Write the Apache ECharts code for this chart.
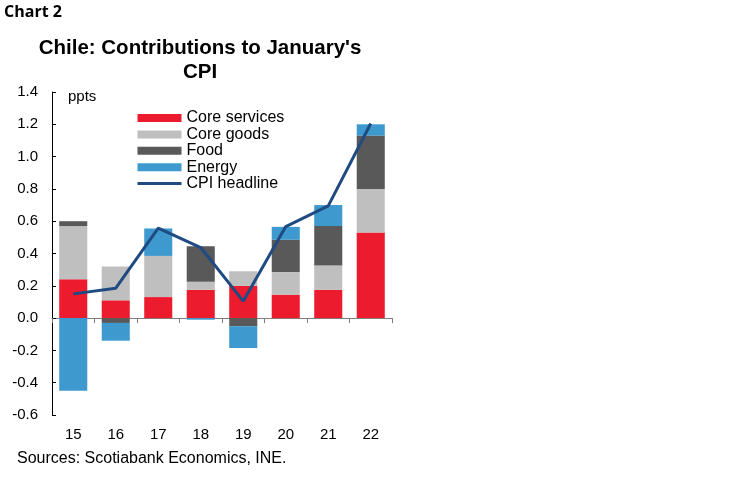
<!DOCTYPE html>
<html>
<head>
<meta charset="utf-8">
<script src="https://cdn.jsdelivr.net/npm/echarts@6/dist/echarts.min.js"></script>
<style>
html,body{margin:0;padding:0;background:#fff;}
#c{width:750px;height:477px;}
</style>
</head>
<body>
<div id="c"></div>
<script>
const categories = ['15','16','17','18','19','20','21','22'];
const coreServices = [0.24, 0.11, 0.13, 0.175, 0.20, 0.145, 0.175, 0.53];
const coreGoods    = [0.33, 0.21, 0.255, 0.05, 0.09, 0.14, 0.15, 0.27];
const food         = [0.03, -0.03, 0, 0.22, -0.05, 0.20, 0.245, 0.33];
const energy       = [-0.45, -0.11, 0.17, -0.01, -0.135, 0.08, 0.13, 0.07];
const cpiHeadline  = [0.15, 0.185, 0.557, 0.437, 0.105, 0.567, 0.695, 1.205];
const yTicks = {min: -0.6, max: 1.4, interval: 0.2};

const chart = echarts.init(document.getElementById('c'));
const font = 'Liberation Sans, Arial, sans-serif';
const barBase = {type: 'bar', stack: 'total', barWidth: '66%'};
chart.setOption({
  animation: false,
  textStyle: {fontFamily: font},
  grid: {left: 52, right: 358, top: 92, bottom: 62, containLabel: false},
  legend: {
    orient: 'vertical', left: 136, top: 110, padding: 0,
    itemWidth: 44, itemHeight: 8, itemGap: 0.4,
    textStyle: {fontFamily: font, fontSize: 16, color: '#000', lineHeight: 16, padding: [0,0,0,0]},
    data: [
      {name: 'Core services', icon: 'rect'},
      {name: 'Core goods', icon: 'rect'},
      {name: 'Food', icon: 'rect'},
      {name: 'Energy', icon: 'rect'},
      {name: 'CPI headline', itemStyle: {opacity: 0, borderWidth: 0}, lineStyle: {width: 3, color: '#1F4A82'}}
    ]
  },
  xAxis: {
    type: 'category', data: categories, boundaryGap: true,
    axisLine: {onZeroAxisIndex: 0, lineStyle: {color: '#7f7f7f', width: 1}},
    axisTick: {show: true, length: 5, lineStyle: {color: '#7f7f7f'}},
    axisLabel: {color: '#000', fontSize: 15, fontFamily: font, margin: 12},
    position: 'bottom'
  },
  yAxis: {
    type: 'value', min: yTicks.min, max: yTicks.max, interval: yTicks.interval,
    splitLine: {show: false},
    axisLine: {show: true, lineStyle: {color: '#000', width: 1}},
    axisTick: {show: true, inside: true, length: 4, lineStyle: {color: '#000'}},
    axisLabel: {color: '#000', fontSize: 15, fontFamily: font, margin: 14,
      formatter: v => v.toFixed(1)}
  },
  graphic: [
    {type: 'text', left: 4, top: 4, style: {text: 'Chart 2', font: 'bold 16px "Open Sans", sans-serif', fill: '#000'}},
    {type: 'text', x: 200, y: 38, style: {text: "Chile: Contributions to January's", font: 'bold 20.5px ' + font, fill: '#000', textAlign: 'center'}},
    {type: 'text', x: 200, y: 62, style: {text: 'CPI', font: 'bold 20.5px ' + font, fill: '#000', textAlign: 'center'}},
    {type: 'text', x: 68, y: 89, style: {text: 'ppts', font: '15px ' + font, fill: '#000'}},
    {type: 'text', x: 17, y: 451, style: {text: 'Sources: Scotiabank Economics, INE.', font: '16px ' + font, fill: '#000'}}
  ],
  series: [
    Object.assign({}, barBase, {name: 'Core services', data: coreServices, itemStyle: {color: '#ED1B2E'}}),
    Object.assign({}, barBase, {name: 'Core goods', data: coreGoods, itemStyle: {color: '#BFBFBF'}}),
    Object.assign({}, barBase, {name: 'Food', data: food, itemStyle: {color: '#595959'}}),
    Object.assign({}, barBase, {name: 'Energy', data: energy, itemStyle: {color: '#3D99CE'}}),
    {type: 'line', name: 'CPI headline', data: cpiHeadline, symbol: 'none', showSymbol: false,
      lineStyle: {color: '#1F4A82', width: 3}, itemStyle: {color: '#1F4A82'}, z: 5}
  ]
});
</script>
</body>
</html>
